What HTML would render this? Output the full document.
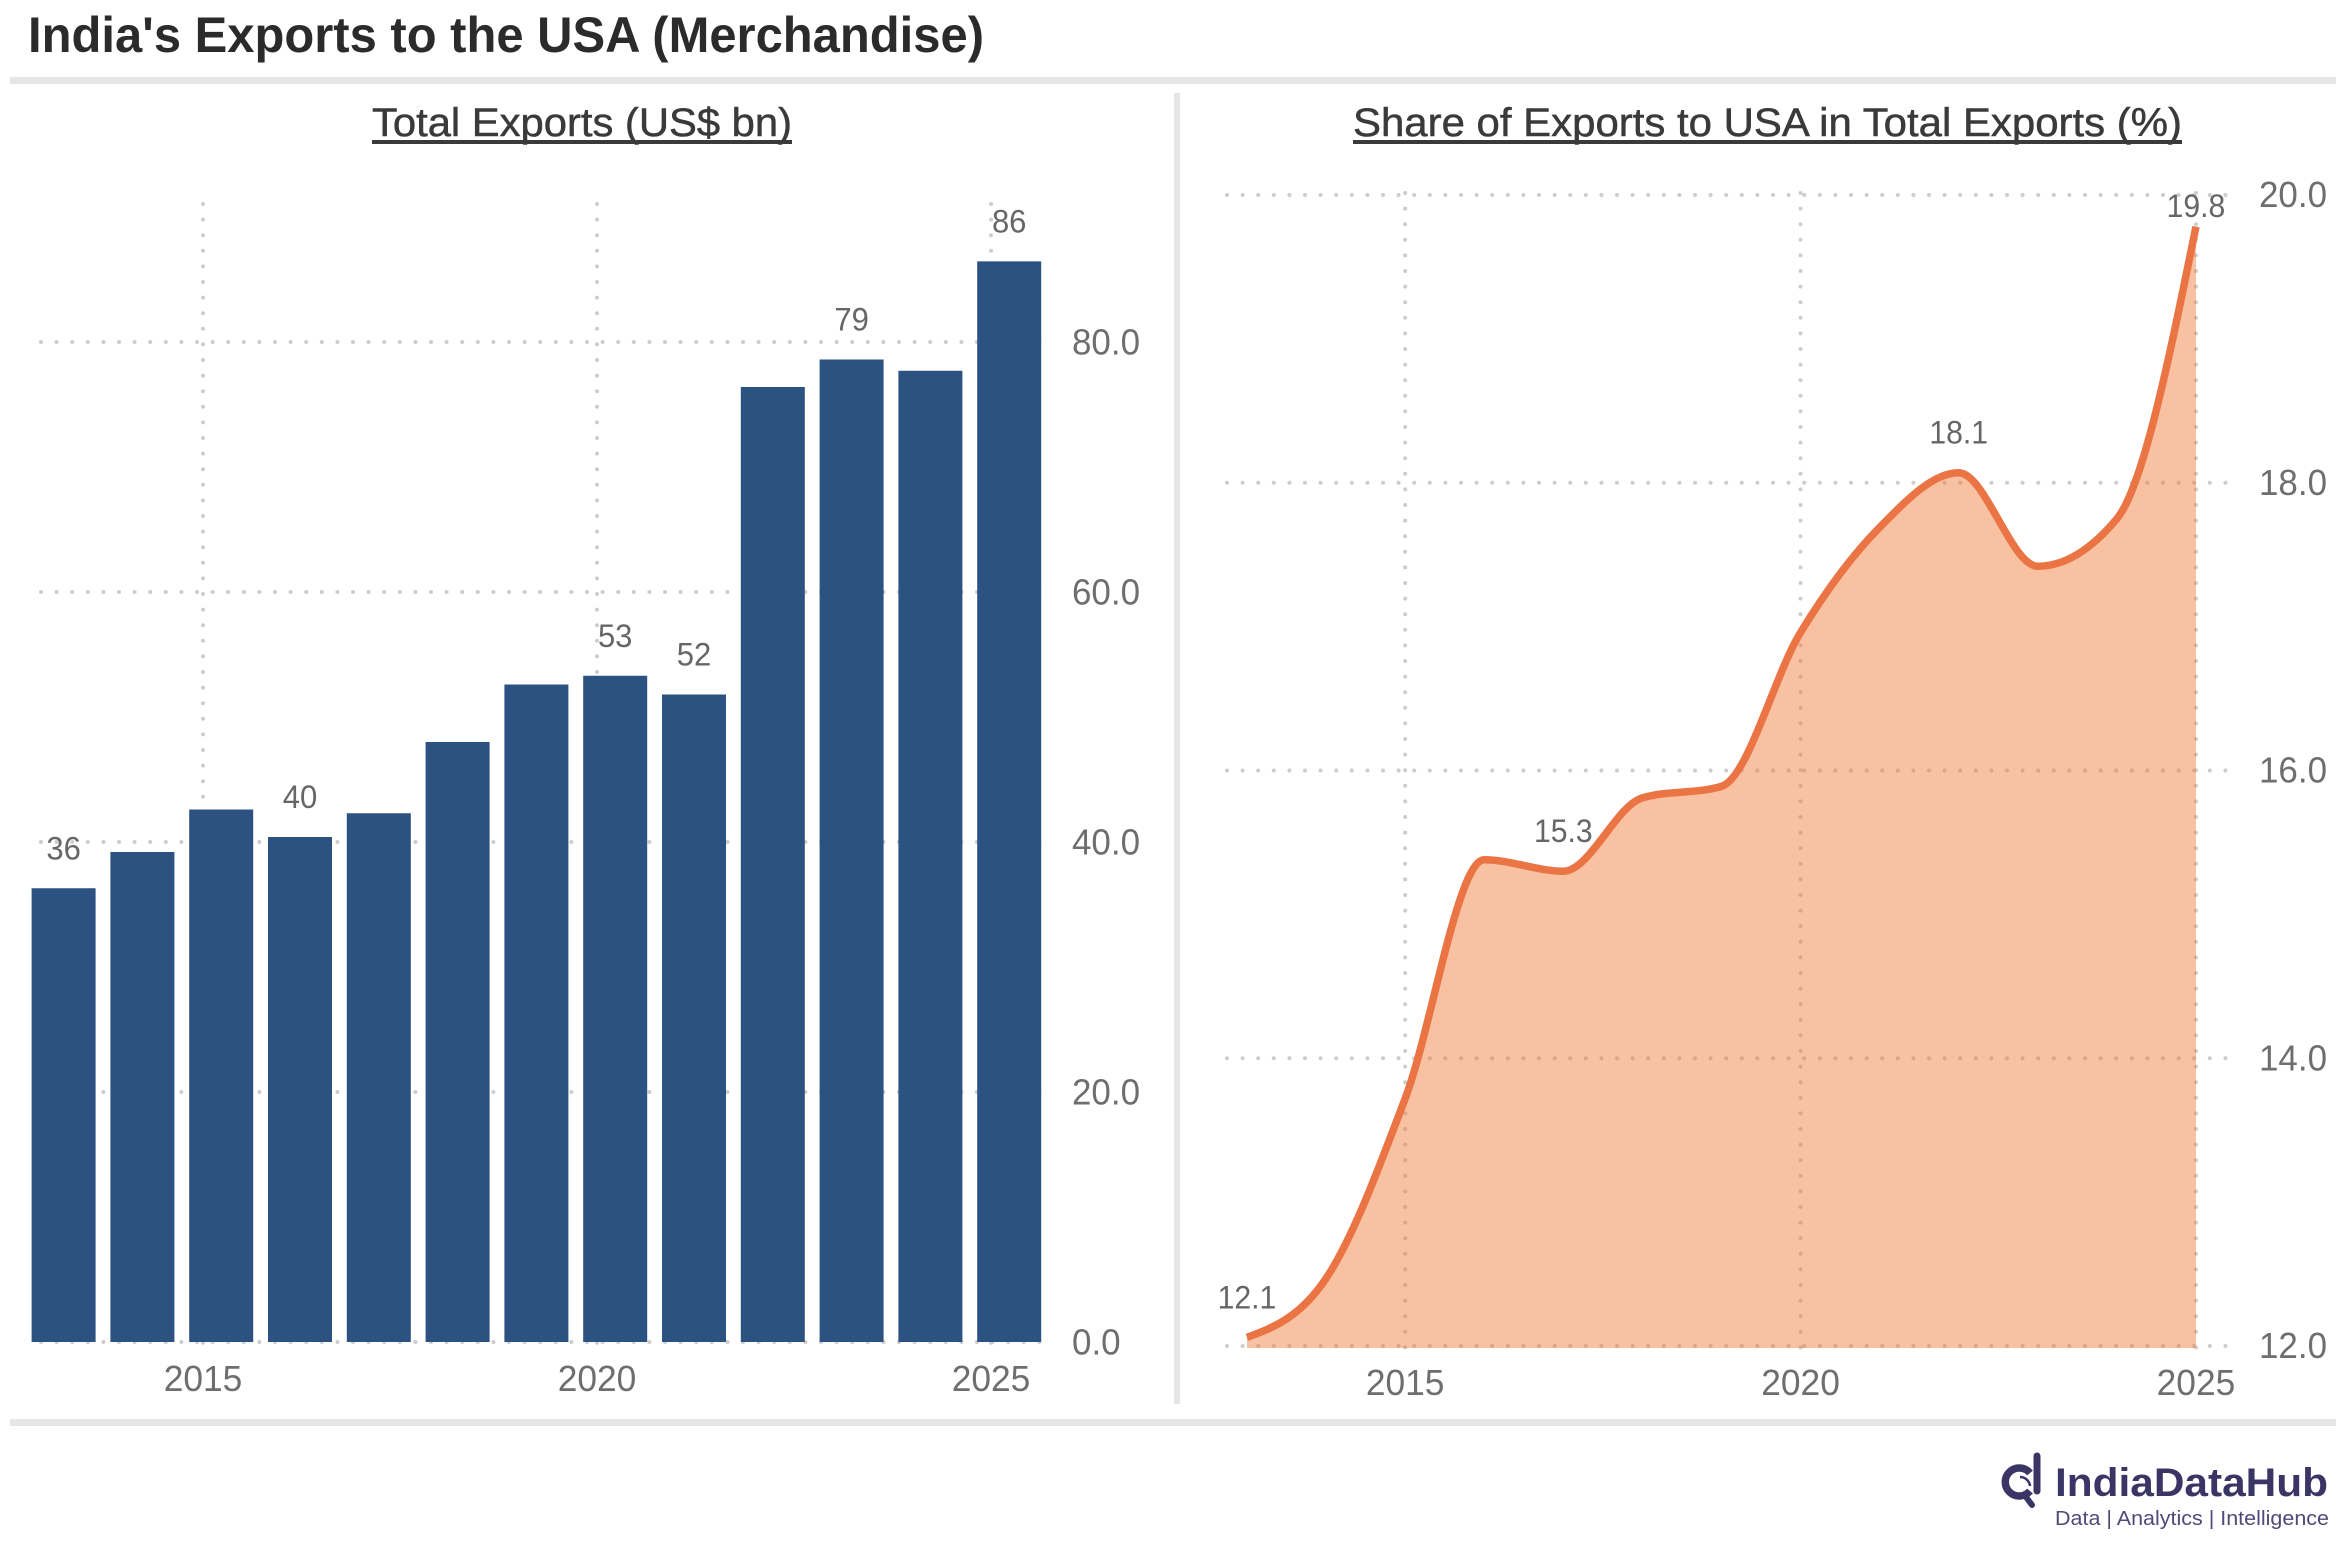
<!DOCTYPE html>
<html lang="en">
<head>
<meta charset="utf-8">
<title>India's Exports to the USA (Merchandise)</title>
<style>
html,body{margin:0;padding:0;background:#fff;}
svg{display:block;font-family:"Liberation Sans",sans-serif;}
</style>
</head>
<body>
<svg id="root" xmlns="http://www.w3.org/2000/svg" width="2342" height="1545" viewBox="0 0 2342 1545">
  <rect x="0" y="0" width="2342" height="1545" fill="#ffffff"/>
  <text x="28" y="52" font-size="50" font-weight="700" fill="#2b2b2b" textLength="956" lengthAdjust="spacingAndGlyphs">India's Exports to the USA (Merchandise)</text>
  <rect x="10" y="77" width="2326" height="7" fill="#e6e6e6"/>
  <rect x="1174" y="93" width="6" height="1311" fill="#e6e6e6"/>
  <rect x="10" y="1419" width="2326" height="7" fill="#e6e6e6"/>

  <text x="372" y="136" font-size="40" fill="#3a3a3a" stroke="#3a3a3a" stroke-width="0.5" textLength="420" lengthAdjust="spacingAndGlyphs">Total Exports (US$ bn)</text>
  <rect x="372" y="140" width="420" height="4" fill="#3a3a3a"/>
  <text x="1353" y="136" font-size="40" fill="#3a3a3a" stroke="#3a3a3a" stroke-width="0.5" textLength="829" lengthAdjust="spacingAndGlyphs">Share of Exports to USA in Total Exports (%)</text>
  <rect x="1353" y="140" width="829" height="4" fill="#3a3a3a"/>

  <g id="left-chart"></g>
  <g id="right-chart"></g>

  <g>
    <path d="M2030 1473 A14 14 0 1 0 2030 1491" fill="none" stroke="#3b3565" stroke-width="7.5"/>
    <path d="M2020 1477 A10 10 0 0 1 2030 1486" fill="none" stroke="#3b3565" stroke-width="2.5"/>
    <line x1="2037" y1="1456" x2="2037" y2="1491" stroke="#3b3565" stroke-width="7" stroke-linecap="round"/>
    <line x1="2026" y1="1497" x2="2032" y2="1505" stroke="#3b3565" stroke-width="6" stroke-linecap="round"/>
    <text x="2055" y="1496" font-size="40" font-weight="700" fill="#3b3565" textLength="273" lengthAdjust="spacingAndGlyphs">IndiaDataHub</text>
    <text x="2055" y="1525" font-size="20" fill="#4f4a78" textLength="274" lengthAdjust="spacingAndGlyphs">Data | Analytics | Intelligence</text>
  </g>
</svg>
<script>
// ---- data: total exports (US$ bn) ----
const barYears = [2013,2014,2015,2016,2017,2018,2019,2020,2021,2022,2023,2024,2025];
const barValues = [36.3,39.2,42.6,40.4,42.3,48.0,52.6,53.3,51.8,76.4,78.6,77.7,86.45];
const barLabelYears = [2013,2016,2020,2021,2023,2025];
const leftYTicks = [0,20,40,60,80];
const leftXTicks = [2015,2020,2025];

// ---- data: share of exports to USA (%) ----
const lineYears = [2013,2014,2015,2016,2017,2018,2019,2020,2021,2022,2023,2024,2025];
const lineValues = [12.06,12.47,13.72,15.38,15.30,15.81,15.89,16.96,17.69,18.07,17.42,17.75,19.78];
const lineLabelYears = [2013,2017,2022,2025];
const rightYTicks = [12,14,16,18,20];
const rightXTicks = [2015,2020,2025];

const NS = 'http://www.w3.org/2000/svg';
function mk(parent, tag, attrs, text){
  const el = document.createElementNS(NS, tag);
  for (const k in attrs) el.setAttribute(k, attrs[k]);
  if (text !== undefined) el.textContent = text;
  parent.appendChild(el);
  return el;
}
// Width of a numeric string, in the reference's digit metrics
function numWidth(s, size){
  let w = 0;
  for (const c of s) w += (c === '.' ? 0.217 : 0.539) * size;
  return w;
}
const GRID = '#cdcdcd';
const gridStyle = {fill:'none', stroke:GRID, 'stroke-width':4, 'stroke-linecap':'round', 'stroke-dasharray':'0 15.6'};

// ---- left chart axes ----
const leftX = y => 203 + 78.8 * (y - 2015);
const barCx = y => leftX(y) + 18.2;
const leftY = v => 1342 - 12.5 * v;
const BAR_W = 64;

const L = document.getElementById('left-chart');
leftYTicks.forEach(t => {
  const g = mk(L, 'path', Object.assign({d:`M41 ${leftY(t)}H1043`}, gridStyle));
  
  
});
leftXTicks.forEach(t => {
  const g = mk(L, 'path', Object.assign({d:`M${leftX(t)} 204V1346`}, gridStyle));
  
  
});
barYears.forEach((yr, i) => {
  const top = leftY(barValues[i]);
  const b = mk(L, 'rect', {x:barCx(yr)-BAR_W/2, y:top, width:BAR_W, height:leftY(0)-top, fill:'#2c5282'});
  
  
});
barLabelYears.forEach(yr => {
  const i = barYears.indexOf(yr);
  const s = String(Math.round(barValues[i]));
  const t = mk(L, 'text', {x:barCx(yr), y:leftY(barValues[i])-29, 'text-anchor':'middle', 'font-size':32, fill:'#666666', textLength:numWidth(s,32), lengthAdjust:'spacingAndGlyphs'}, s);
  
  
});
leftYTicks.forEach(v => {
  const s = v.toFixed(1);
  const t = mk(L, 'text', {x:1072, y:leftY(v)+12.5, 'font-size':36, fill:'#6e6e6e', textLength:numWidth(s,36)+2, lengthAdjust:'spacingAndGlyphs'}, s);
  
  
});
leftXTicks.forEach(v => {
  const s = String(v);
  const t = mk(L, 'text', {x:leftX(v), y:1391, 'text-anchor':'middle', 'font-size':36, fill:'#6e6e6e', textLength:numWidth(s,36)+1, lengthAdjust:'spacingAndGlyphs'}, s);
  
  
});

// ---- right chart axes ----
const rightX = y => 1247 + 79.08 * (y - 2013);
const rightY = v => 1346 - 143.87 * (v - 12);
const R = document.getElementById('right-chart');
rightYTicks.forEach(t => {
  const g = mk(R, 'path', Object.assign({d:`M1227 ${rightY(t)}H2229`}, gridStyle));
  
  
});
rightXTicks.forEach(t => {
  const g = mk(R, 'path', Object.assign({d:`M${rightX(t)} 193V1349`}, gridStyle));
  
  
});

// Monotone cubic through the data points
function monotonePath(xs, ys){
  const n = xs.length, d = [], m = [];
  for (let i = 0; i < n-1; i++) d.push((ys[i+1]-ys[i])/(xs[i+1]-xs[i]));
  for (let i = 1; i < n-1; i++){
    if (d[i-1]*d[i] <= 0) m[i] = 0;
    else m[i] = 2*Math.min(Math.abs(d[i-1]),Math.abs(d[i]),Math.abs(d[i-1]+d[i])/4)*Math.sign(d[i]);
  }
  m[0] = (3*d[0]-m[1])/2;
  m[n-1] = (3*d[n-2]-m[n-2])/2;
  let p = `M${xs[0]} ${ys[0]}`;
  for (let i = 0; i < n-1; i++){
    const h = (xs[i+1]-xs[i])/3;
    p += `C${xs[i]+h} ${ys[i]+m[i]*h} ${xs[i+1]-h} ${ys[i+1]-m[i+1]*h} ${xs[i+1]} ${ys[i+1]}`;
  }
  return p;
}
const px = lineYears.map(rightX);
const py = lineValues.map(rightY);
const curve = monotonePath(px, py);
const floorY = rightY(rightYTicks[0]) + 2;
const area = mk(R, 'path', {d:`${curve}L${px[px.length-1]} ${floorY}L${px[0]} ${floorY}Z`, fill:'#ed7530', 'fill-opacity':0.45});


const line = mk(R, 'path', {d:curve, fill:'none', stroke:'#ea7444', 'stroke-width':7.5, 'stroke-linejoin':'round'});



lineLabelYears.forEach(yr => {
  const i = lineYears.indexOf(yr);
  const s = lineValues[i].toFixed(1);
  const t = mk(R, 'text', {x:rightX(yr), y:Math.max(217, rightY(lineValues[i])-29), 'text-anchor':'middle', 'font-size':32, fill:'#666666', textLength:numWidth(s,32), lengthAdjust:'spacingAndGlyphs'}, s);
  
  
});
rightYTicks.forEach(v => {
  const s = v.toFixed(1);
  const t = mk(R, 'text', {x:2259, y:rightY(v)+12, 'font-size':36, fill:'#6e6e6e', textLength:numWidth(s,36)+2, lengthAdjust:'spacingAndGlyphs'}, s);
  
  
});
rightXTicks.forEach(v => {
  const s = String(v);
  const t = mk(R, 'text', {x:rightX(v), y:1395, 'text-anchor':'middle', 'font-size':36, fill:'#6e6e6e', textLength:numWidth(s,36)+1, lengthAdjust:'spacingAndGlyphs'}, s);
  
  
});
</script>
</body>
</html>
